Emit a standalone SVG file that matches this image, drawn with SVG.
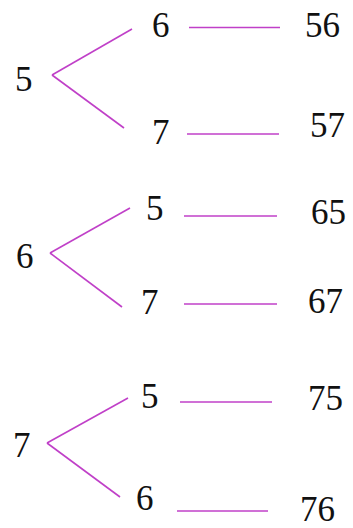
<svg xmlns="http://www.w3.org/2000/svg" width="353" height="528" viewBox="0 0 353 528">
<style>
text{font-family:"Liberation Serif","Times New Roman",serif;font-size:35px;fill:#111}
.c line{stroke:#c040c8;stroke-width:1.6;fill:none}
</style>
<rect width="353" height="528" fill="#fff"/>
<g class="c" id="connectors">
<line x1="52" y1="75" x2="132" y2="29"/>
<line x1="52" y1="75" x2="124" y2="128"/>
<line x1="189" y1="27.5" x2="280" y2="27.5"/>
<line x1="187" y1="134" x2="279" y2="134"/>
<line x1="50" y1="253" x2="130" y2="208"/>
<line x1="50" y1="253" x2="122" y2="307"/>
<line x1="184" y1="216" x2="277" y2="216"/>
<line x1="184" y1="304" x2="277" y2="304"/>
<line x1="47" y1="443" x2="128" y2="398"/>
<line x1="47" y1="443" x2="120" y2="497"/>
<line x1="180" y1="402" x2="272" y2="402"/>
<line x1="177" y1="511" x2="268" y2="511"/>
</g>
<g id="t1root"><text x="15" y="91">5</text></g>
<g id="t1a"><text x="152" y="37">6</text></g>
<g id="t1a_r"><text x="305" y="37">56</text></g>
<g id="t1b"><text x="152" y="144">7</text></g>
<g id="t1b_r"><text x="310" y="137">57</text></g>
<g id="t2root"><text x="16" y="268">6</text></g>
<g id="t2a"><text x="146" y="220">5</text></g>
<g id="t2a_r"><text x="311" y="224">65</text></g>
<g id="t2b"><text x="141" y="314">7</text></g>
<g id="t2b_r"><text x="308" y="313">67</text></g>
<g id="t3root"><text x="13" y="457">7</text></g>
<g id="t3a"><text x="141" y="408">5</text></g>
<g id="t3a_r"><text x="308" y="410">75</text></g>
<g id="t3b"><text x="136" y="510">6</text></g>
<g id="t3b_r"><text x="300" y="521">76</text></g>
</svg>
